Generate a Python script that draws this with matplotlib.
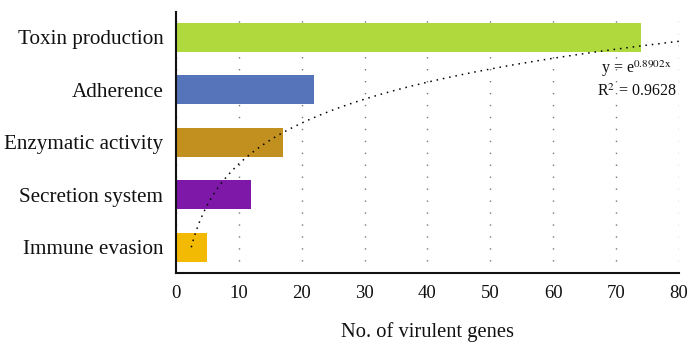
import numpy as np
import matplotlib
matplotlib.use("Agg")
import matplotlib.pyplot as plt

categories = ["Immune evasion", "Secretion system", "Enzymatic activity", "Adherence", "Toxin production"]
gene_counts = [5, 12, 17, 22, 74]
bar_colors = ["#F2BA02", "#7D18A8", "#C2901E", "#5574BA", "#B0D93E"]
x_ticks = [0, 10, 20, 30, 40, 50, 60, 70, 80]
trend_coef = 0.8902
trend_r2 = 0.9628

plt.rcParams["font.family"] = ["Liberation Serif", "DejaVu Serif"]
plt.rcParams["mathtext.fontset"] = "stix"

fig = plt.figure(figsize=(6.89, 3.49), dpi=100)
ax = fig.add_axes([0.2554, 0.2178, 0.7300, 0.7478])

ypos = np.arange(len(categories))
ax.barh(ypos, gene_counts, height=0.56, color=bar_colors, zorder=2)

# exponential trendline over category index (1 = bottom category)
t = np.linspace(1, 5, 400)
ax.plot(np.exp(trend_coef * t), t - 1, color="black", lw=1.1,
        linestyle=(0, (1, 3.2)), zorder=3)

ax.set_xlim(0, 80)
ax.set_ylim(-0.49, 4.48)
ax.set_xticks(x_ticks)
ax.set_yticks(ypos)
ax.set_yticklabels(categories, fontsize=15.2)
ax.tick_params(axis="both", length=0, colors="#111111")
ax.tick_params(axis="x", pad=9, labelsize=13.5)
ax.tick_params(axis="y", pad=9)

ax.xaxis.grid(True, color="#777777", lw=1.0, linestyle=(0, (1.0, 7.6)), zorder=0)
ax.set_axisbelow(True)
for s in ("top", "right"):
    ax.spines[s].set_visible(False)
for s in ("left", "bottom"):
    ax.spines[s].set_linewidth(1.5)
    ax.spines[s].set_color("#111111")

ax.set_xlabel("No. of virulent genes", fontsize=14.8, labelpad=14, color="#111111")

ax.text(0.986, 0.782, r"y = e$^{%.4f\mathrm{x}}$" % trend_coef, transform=ax.transAxes,
        ha="right", va="center", fontsize=11.5, color="#111111")
ax.text(0.995, 0.693, r"R$^2$ = %.4f" % trend_r2, transform=ax.transAxes,
        ha="right", va="center", fontsize=11.5, color="#111111")

fig.savefig("out.png", dpi=100)
